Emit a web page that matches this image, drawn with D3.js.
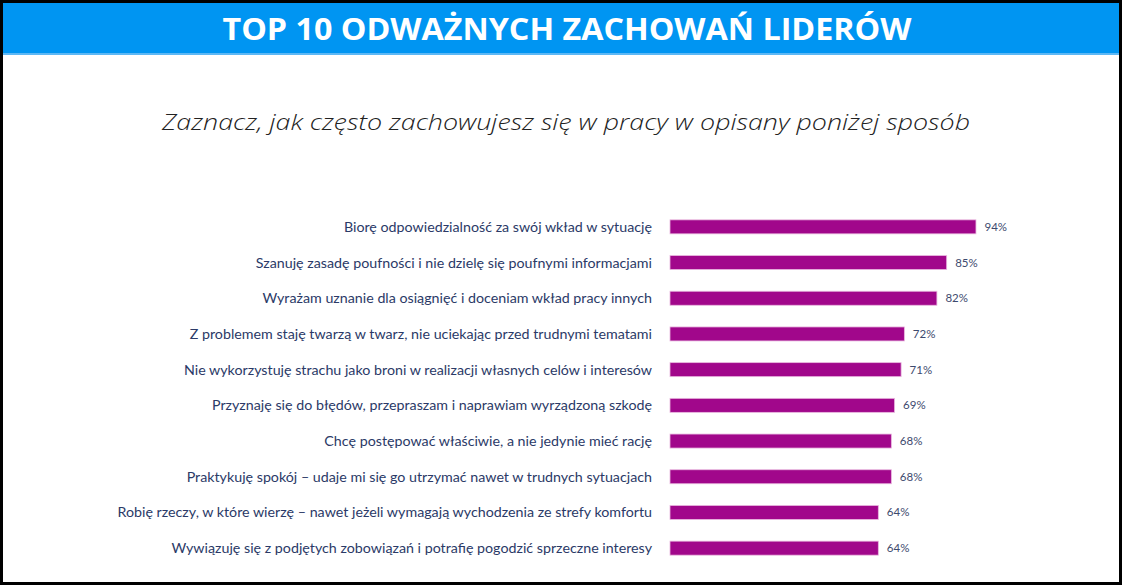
<!DOCTYPE html>
<html><head><meta charset="utf-8">
<script src="https://cdn.jsdelivr.net/npm/d3@7"></script>
<style>html,body{margin:0;padding:0;background:#fff;}</style>
</head><body>
<svg id="c" width="1122" height="586"></svg>
<script>
const title = "TOP 10 ODWAŻNYCH ZACHOWAŃ LIDERÓW";
const subtitle = "Zaznacz, jak często zachowujesz się w pracy w opisany poniżej sposób";
const categories = [
  "Biorę odpowiedzialność za swój wkład w sytuację",
  "Szanuję zasadę poufności i nie dzielę się poufnymi informacjami",
  "Wyrażam uznanie dla osiągnięć i doceniam wkład pracy innych",
  "Z problemem staję twarzą w twarz, nie uciekając przed trudnymi tematami",
  "Nie wykorzystuję strachu jako broni w realizacji własnych celów i interesów",
  "Przyznaję się do błędów, przepraszam i naprawiam wyrządzoną szkodę",
  "Chcę postępować właściwie, a nie jedynie mieć rację",
  "Praktykuję spokój – udaje mi się go utrzymać nawet w trudnych sytuacjach",
  "Robię rzeczy, w które wierzę – nawet jeżeli wymagają wychodzenia ze strefy komfortu",
  "Wywiązuję się z podjętych zobowiązań i potrafię pogodzić sprzeczne interesy"
];
const values = [94, 85, 82, 72, 71, 69, 68, 68, 64, 64];

const svg = d3.select("#c");
const W = 1122, H = 586;

// frame
svg.append("rect").attr("x",1.5).attr("y",1.5).attr("width",W-3).attr("height",H-4)
  .attr("fill","#fff").attr("stroke","#000").attr("stroke-width",3);
svg.append("rect").attr("x",3).attr("y",3).attr("width",W-6).attr("height",50).attr("fill","#0095f2");
svg.append("rect").attr("x",3).attr("y",53).attr("width",W-6).attr("height",2).attr("fill","#5db8f5");

svg.append("text").attr("x",567).attr("y",39.5).attr("text-anchor","middle")
  .attr("font-family","Open Sans").attr("font-weight",700).attr("font-size",31)
  .attr("textLength",689).attr("lengthAdjust","spacingAndGlyphs")
  .attr("fill","#fff").text(title);

svg.append("text").attr("x",566).attr("y",130).attr("text-anchor","middle")
  .attr("font-family","Open Sans").attr("font-style","italic").attr("font-weight",300).attr("font-size",22.5)
  .attr("textLength",808).attr("lengthAdjust","spacingAndGlyphs")
  .attr("fill","#222").text(subtitle);

const x = d3.scaleLinear().domain([0,100]).range([670, 995.5]);
const y = d3.scaleBand().domain(categories).range([209, 566]).paddingInner(0.6).paddingOuter(0.3);

const g = svg.append("g");
g.selectAll("rect.bar").data(values).join("rect").attr("class","bar")
  .attr("x", x(0)).attr("y",(d,i)=>y(categories[i]) + y.bandwidth()/2 - 7)
  .attr("width", d=>x(d)-x(0)).attr("height",14)
  .attr("fill","#a1078b").attr("stroke","#e9b8df").attr("stroke-width",0.8);

const yAxis = d3.axisLeft(y).tickSize(0).tickPadding(0);
const ax = svg.append("g").attr("transform","translate(652,0)").call(yAxis);
ax.select(".domain").remove();
ax.selectAll("text").attr("font-family","Lato").attr("font-size",14.25).attr("fill","#2b3a67").attr("dy","0.35em");

g.selectAll("text.val").data(values).join("text").attr("class","val")
  .attr("x", d=>x(d)+8.5).attr("y",(d,i)=>y(categories[i]) + y.bandwidth()/2)
  .attr("dy","0.35em").attr("font-family","Lato").attr("font-size",11.5).attr("fill","#3d4a6e")
  .text(d=>d+"%");
</script>
</body></html>
